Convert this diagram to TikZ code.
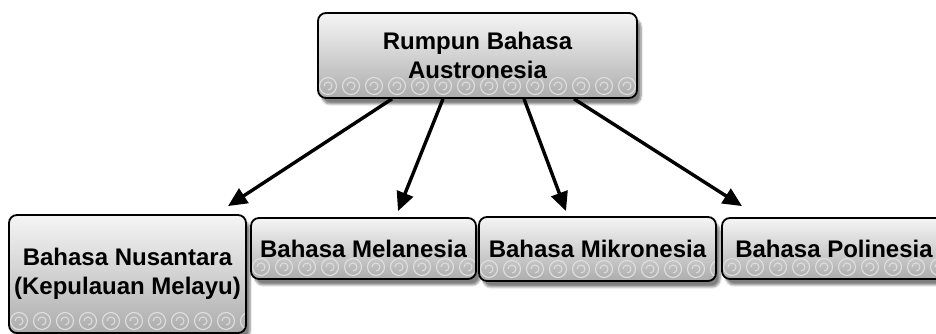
\documentclass[tikz,border=0pt]{standalone}
\usepackage{fontspec}
\setmainfont{Liberation Sans}
\usetikzlibrary{arrows.meta,shadows.blur}
\pgfdeclarelayer{bg}
\pgfsetlayers{bg,main}
\tikzset{
  ornbox/.style={draw=black, line width=1.8pt, rounded corners=8pt,
    top color=gray!8, bottom color=gray!65, middle color=gray!35,
    blur shadow={shadow xshift=4pt, shadow yshift=-6pt, shadow blur steps=6, shadow opacity=50},
    inner sep=0pt, align=center, font=\bfseries\fontsize{24}{29}\selectfont,
    path picture={
      \foreach \i in {0,...,15} {
        \draw[gray!25, line width=1.1pt]
          ([xshift=\i*23pt+10pt, yshift=12pt]path picture bounding box.south west) circle (8.5pt);
        \draw[gray!25, line width=1pt]
          ([xshift=\i*23pt+10pt, yshift=12pt]path picture bounding box.south west) ++(-4pt,0) arc (180:-90:4pt);
      }
    }},
  arr/.style={line width=3.4pt, -{Triangle[length=19pt,width=17pt]}}
}
\begin{document}
\begin{tikzpicture}[x=1pt,y=1pt]
\useasboundingbox (0,0) rectangle (936,334);
\node[ornbox, minimum width=319pt, minimum height=85pt] (top) at (477.5,278.5) {Rumpun Bahasa\\Austronesia};
\node[ornbox, minimum width=237pt, minimum height=118pt] (nus) at (127.5,60) {Bahasa Nusantara\\(Kepulauan Melayu)};
\node[ornbox, minimum width=225pt, minimum height=61pt] (mel) at (363.5,85.5) {Bahasa Melanesia};
\node[ornbox, minimum width=237pt, minimum height=64pt] (mik) at (597.5,85) {Bahasa Mikronesia};
\node[ornbox, minimum width=224pt, minimum height=61pt] (pol) at (834,85.5) {Bahasa Polinesia};
\begin{pgfonlayer}{bg}
\draw[arr] ([xshift=-85.5pt]top.south) -- ([xshift=100.5pt,yshift=8pt]nus.north);
\draw[arr] ([xshift=-34.5pt]top.south) -- ([xshift=34.5pt,yshift=6pt]mel.north);
\draw[arr] ([xshift=46.5pt]top.south) -- ([xshift=-31.5pt,yshift=5pt]mik.north);
\draw[arr] ([xshift=96.5pt]top.south) -- ([xshift=-92pt,yshift=11pt]pol.north);
\end{pgfonlayer}
\end{tikzpicture}
\end{document}
